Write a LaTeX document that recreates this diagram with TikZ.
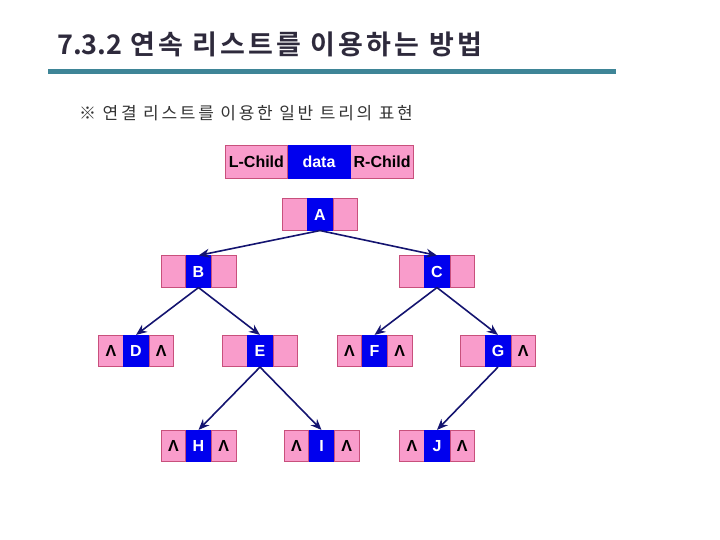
\documentclass[tikz,border=0pt]{standalone}
\usepackage{fontspec}
\setmainfont{Liberation Sans}
\newfontfamily\krs[LetterSpace=16]{Noto Sans CJK KR}
\newfontfamily\krb[LetterSpace=12,BoldFont={Noto Sans CJK KR Bold}]{Noto Sans CJK KR}
\newfontfamily\krbn[BoldFont={Noto Sans CJK KR Bold}]{Noto Sans CJK KR}
\usetikzlibrary{positioning,arrows.meta}
\definecolor{cellpink}{HTML}{F99CCB}
\definecolor{cellline}{HTML}{C8507C}
\definecolor{cellblue}{HTML}{0000EE}
\definecolor{arrowc}{HTML}{141470}
\definecolor{titlec}{HTML}{2E2A3C}
\definecolor{rulec}{HTML}{3E8597}
\tikzset{
  cell/.style={minimum height=31.5pt, minimum width=24.5pt, inner sep=0pt,
    font=\fontsize{16}{16}\selectfont\bfseries, anchor=center},
  pinkcell/.style={cell, fill=cellpink, draw=cellline, line width=0.6pt, text=black},
  bluecell/.style={cell, fill=cellblue, draw=cellblue, line width=0.6pt, text=white},
  link/.style={draw=arrowc, line width=1.6pt, -{Stealth[length=11pt,width=9pt]}},
}
\newcommand{\lnode}[5]{%
  \node[bluecell] (#1) at (#2) {#3};
  \node[pinkcell, left=0pt of #1] (#1l) {#4};
  \node[pinkcell, right=0pt of #1] (#1r) {#5};
  \node[bluecell] at (#1) {#3};
}
\newcommand{\nul}{Λ}
\begin{document}
\begin{tikzpicture}[x=1pt,y=-1pt]
\useasboundingbox (0,0) rectangle (720,540);
% title
\node[anchor=base west, inner sep=0pt, text=titlec, font=\fontsize{27}{27}\selectfont\bfseries] (title) at (57,55) {{\krbn 7.3.2} {\krb 연속 리스트를 이용하는 방법}};
\fill[rulec] (48,69.5) rectangle (616,74);
\node[anchor=base west, inner sep=0pt, text=black!80, font=\fontsize{17}{17}\selectfont\krs] (sub) at (79,119.5) {※ 연결 리스트를 이용한 일반 트리의 표현};
% legend
\node[bluecell, minimum width=62pt, minimum height=33pt] (lg) at (319,161.5) {data};
\node[pinkcell, minimum width=62pt, minimum height=33pt, left=0pt of lg] (lgl) {L-Child};
\node[pinkcell, minimum width=63pt, minimum height=33pt, right=0pt of lg] (lgr) {R-Child};
\node[bluecell, minimum width=62pt, minimum height=33pt] at (lg) {data};
% tree
\lnode{A}{320,214.5}{A}{}{}
\lnode{B}{198.5,271.5}{B}{}{}
\lnode{C}{437,271.5}{C}{}{}
\lnode{D}{136,351}{D}{\nul}{\nul}
\lnode{E}{260,351}{E}{}{}
\lnode{F}{374.5,351}{F}{\nul}{\nul}
\lnode{G}{498,351}{G}{}{\nul}
\lnode{H}{198.5,446}{H}{\nul}{\nul}
\lnode{I}{321.5,446}{I}{\nul}{\nul}
\lnode{J}{437,446}{J}{\nul}{\nul}
\draw[link] (A.south) -- (B.north);
\draw[link] (A.south) -- (C.north);
\draw[link] (B.south) -- (D.north);
\draw[link] (B.south) -- (E.north);
\draw[link] (C.south) -- (F.north);
\draw[link] (C.south) -- (G.north);
\draw[link] (E.south) -- (H.north);
\draw[link] (E.south) -- (I.north);
\draw[link] (G.south) -- (J.north);
\end{tikzpicture}
\end{document}
